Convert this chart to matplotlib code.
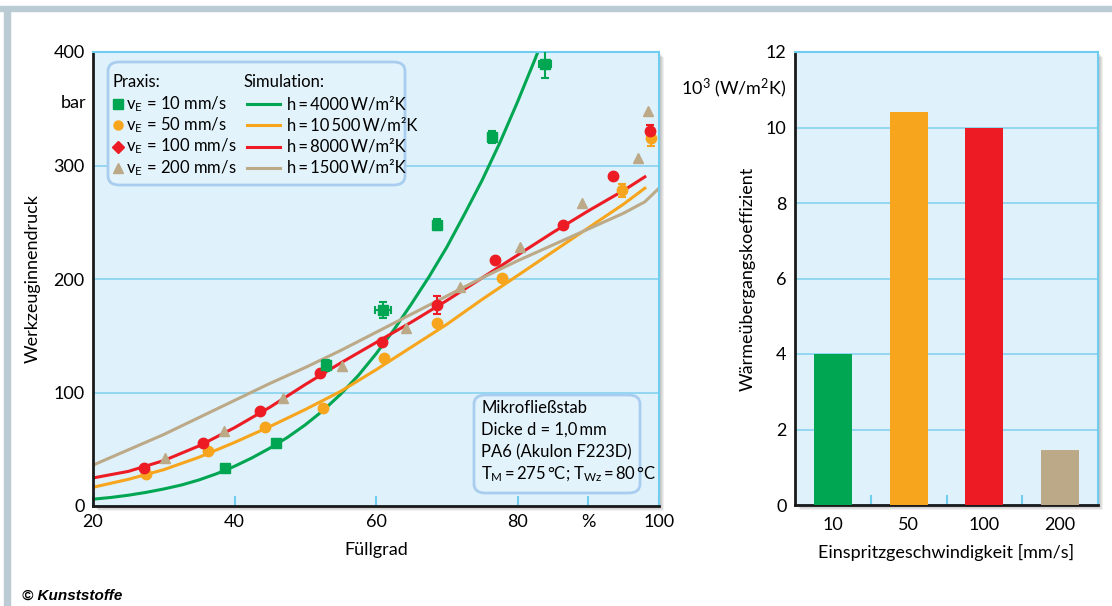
import matplotlib.pyplot as plt
from matplotlib.patches import Rectangle, FancyBboxPatch
from matplotlib.transforms import blended_transform_factory

plt.rcParams['font.family'] = ['Lato', 'DejaVu Sans']
plt.rcParams['mathtext.fontset'] = 'custom'
plt.rcParams['mathtext.rm'] = 'Lato'
plt.rcParams['mathtext.it'] = 'Lato:italic'

# Farben
GREEN = '#00a651'
ORANGE = '#f7a51c'
RED = '#ed1c24'
TAN = '#bca987'
BG = '#dff1fb'
GRID = '#8dd5f2'

# Praxis (Messwerte)
green_x = [38.7, 45.9, 52.9, 61.0, 68.6, 76.4, 83.9]
green_y = [33.5, 55.5, 124, 172.7, 248, 325, 389]
green_yerr = [0, 0, 5, 7, 5, 5, 12]
green_xerr = [0, 0, 0, 1.1, 0, 0, 0.9]

orange_x = [27.5, 36.3, 44.3, 52.5, 61.1, 68.6, 77.8, 94.8, 98.9]
orange_y = [28, 48.5, 69.6, 86, 130, 161, 201, 278, 324]
orange_yerr = [0, 0, 0, 0, 0, 0, 0, 6, 7]

red_x = [27.2, 35.5, 43.6, 52.1, 60.8, 68.6, 76.8, 86.4, 93.5, 98.7]
red_y = [33.5, 55.5, 83.7, 117, 144.5, 177, 217, 247.5, 290.7, 330]
red_yerr = [0, 0, 0, 0, 0, 8, 0, 0, 0, 6]

tan_x = [30.2, 38.5, 46.9, 55.2, 64.2, 71.9, 80.4, 89.1, 97.0, 98.4]
tan_y = [42.5, 66, 95, 123, 157, 193, 228, 267, 306.6, 348]

# Simulation
sim_green_x = [20, 22.5, 25, 27.5, 30, 32.5, 35, 37.5, 40, 42.5, 45, 47.5, 50, 52.5, 55,
               57.5, 60, 62.5, 65, 67.5, 70, 72.5, 75, 77.5, 80, 82.5, 83]
sim_green_y = [6, 7.5, 9.5, 12, 15, 18.5, 23, 28.5, 35, 42.5, 51, 60.5, 71.5, 84, 98.5,
               115, 134, 155, 178, 202, 228, 257, 287, 320, 356, 394, 402]
sim_x = [20, 25, 30, 35, 40, 45, 50, 55, 60, 65, 70, 75, 80, 85, 90, 95, 98]
sim_orange_y = [16.5, 23.5, 32, 43, 56, 70, 85, 101, 120, 140, 160, 182, 203, 224, 245, 266, 280]
sim_red_y = [24.7, 30.5, 40, 53, 69, 87, 107, 126, 144, 162, 181, 201, 221, 241, 260, 278, 290]
sim_tan_x = [20, 25, 30, 35, 40, 45, 50, 55, 60, 65, 70, 75, 80, 85, 90, 95, 98, 100]
sim_tan_y = [36, 49.5, 63, 78, 93, 108, 122, 137, 153, 169, 185, 201, 216, 230, 244, 258, 268, 280]

# Balken
bar_labels = ['10', '50', '100', '200']
bar_values = [4.0, 10.4, 10.0, 1.45]
bar_colors = [GREEN, ORANGE, RED, TAN]

W, H = 1112, 606
fig = plt.figure(figsize=(W / 100, H / 100), dpi=100)

# Rahmen oben/links
fig.patches.append(Rectangle((0, 1 - 11 / H), 1, 5 / H, transform=fig.transFigure,
                             color='#bacbd4', zorder=-2))
fig.patches.append(Rectangle((4 / W, 0), 6 / W, 1 - 11 / H, transform=fig.transFigure,
                             color='#bacbd4', zorder=-2))

ax1 = fig.add_axes([93 / W, 100 / H, 566 / W, 454 / H])
ax2 = fig.add_axes([795 / W, 101 / H, 303 / W, 453 / H])


def shadow(ax):
    b = ax.get_position()
    for i in range(1, 6):
        fig.patches.append(Rectangle((b.x0 + i / W, b.y0 - i / H), b.width, b.height,
                                     transform=fig.transFigure, color='#000000',
                                     alpha=0.06, zorder=-1, lw=0))


def style(ax):
    ax.set_facecolor(BG)
    ax.set_axisbelow(True)
    for s in ['left', 'bottom']:
        ax.spines[s].set_color('#1a1a1a')
        ax.spines[s].set_linewidth(2)
    for s in ['top', 'right']:
        ax.spines[s].set_color('#6fcdf0')
        ax.spines[s].set_linewidth(1.5)
    ax.yaxis.grid(True, color=GRID, lw=1.3)
    ax.tick_params(axis='y', length=0, pad=6, labelsize=13)
    ax.tick_params(axis='x', labelsize=13)


shadow(ax1)
shadow(ax2)
style(ax1)
style(ax2)

# --- linkes Diagramm ---
ax1.plot(sim_green_x, sim_green_y, color=GREEN, lw=2.2)
ax1.plot(sim_x, sim_orange_y, color=ORANGE, lw=2.2)
ax1.plot(sim_x, sim_red_y, color=RED, lw=2.2)
ax1.plot(sim_tan_x, sim_tan_y, color=TAN, lw=2.2)

ax1.errorbar(tan_x, tan_y, fmt='^', color=TAN, ms=7, zorder=3)
ax1.errorbar(orange_x, orange_y, yerr=orange_yerr, fmt='o', color=ORANGE, ms=7.5,
             capsize=3, elinewidth=1.5, capthick=1.5, zorder=3)
ax1.errorbar(red_x, red_y, yerr=red_yerr, fmt='o', color=RED, ms=7.5,
             capsize=3, elinewidth=1.5, capthick=1.5, zorder=3)
ax1.errorbar(green_x, green_y, yerr=green_yerr, xerr=green_xerr, fmt='s', color=GREEN,
             ms=7, capsize=3, elinewidth=1.5, capthick=1.5, zorder=3)

ax1.set_xlim(20, 100)
ax1.set_ylim(0, 400)
ax1.set_xticks([20, 40, 60, 80, 90, 100])
ax1.set_xticklabels(['20', '40', '60', '80', '%', '100'])
ax1.set_yticks([0, 100, 200, 300, 400])
ax1.tick_params(axis='x', direction='in', length=7, width=1.5, color='#6fcdf0', pad=6)
ax1.set_xlabel('Füllgrad', fontsize=13)
ax1.xaxis.set_label_coords(0.5, -0.08)
ax1.set_ylabel('Werkzeuginnendruck', fontsize=13)
ax1.yaxis.set_label_coords(-0.092, 0.5)
trans = blended_transform_factory(ax1.transAxes, ax1.transData)
ax1.text(-0.011, 355, 'bar', transform=trans, ha='right', va='center', fontsize=13)


def pa(x, y):
    # Pixel -> Achsenkoordinaten (linkes Diagramm)
    return (x - 93) / 566, (506 - y) / 454


# Legende
x0, y0 = pa(108, 185)
x1, y1 = pa(405, 62)
ax1.add_patch(FancyBboxPatch((x0, y0), x1 - x0, y1 - y0, transform=ax1.transAxes,
                             boxstyle='round,pad=0,rounding_size=0.02', fc='#e3f3fb',
                             ec='#a9cdee', lw=2, zorder=5))
leg_fs = 12
ts = '\u2009'
ax1.text(*pa(113, 82), 'Praxis:', transform=ax1.transAxes, va='center', fontsize=leg_fs, zorder=6)
ax1.text(*pa(244, 82), 'Simulation:', transform=ax1.transAxes, va='center', fontsize=leg_fs, zorder=6)
prax = [('s', GREEN, '10'), ('o', ORANGE, '50'), ('D', RED, '100'), ('^', TAN, '200')]
sims = [(GREEN, '4000'), (ORANGE, '10' + ts + '500'), (RED, '8000'), (TAN, '1500')]
for i, ((m, c, v), (lc, h)) in enumerate(zip(prax, sims)):
    ry = 104 + i * 21.3
    ax1.plot(*pa(118, ry), marker=m, color=c, ms=6.5, transform=ax1.transAxes, zorder=6)
    ax1.text(*pa(126, ry), r'v$_\mathrm{E}$ = ' + v + ' mm/s', transform=ax1.transAxes,
             va='center', fontsize=leg_fs, zorder=6)
    xa, ya = pa(247, ry)
    xb, _ = pa(280, ry)
    ax1.plot([xa, xb], [ya, ya], color=lc, lw=2.2, transform=ax1.transAxes, zorder=6)
    ax1.text(*pa(287, ry), 'h' + ts + '=' + ts + h + ts + 'W/m²K', transform=ax1.transAxes,
             va='center', fontsize=leg_fs, zorder=6)

# Infobox
x0, y0 = pa(474, 493)
x1, y1 = pa(640, 395)
ax1.add_patch(FancyBboxPatch((x0, y0), x1 - x0, y1 - y0, transform=ax1.transAxes,
                             boxstyle='round,pad=0,rounding_size=0.02', fc='#e3f3fb',
                             ec='#a9cdee', lw=2, zorder=5))
info = ['Mikrofließstab', 'Dicke d = 1,0' + ts + 'mm', 'PA6 (Akulon F223D)',
        r'T$_\mathrm{M}$' + ts + '=' + ts + '275' + ts + '°C; T' + r'$_\mathrm{Wz}$'
        + ts + '=' + ts + '80' + ts + '°C']
for i, t in enumerate(info):
    ax1.text(*pa(481, 408 + i * 22), t, transform=ax1.transAxes, va='center',
             fontsize=leg_fs, zorder=6)

# --- rechtes Diagramm ---
xpos = range(len(bar_values))
ax2.bar(xpos, bar_values, width=0.5, color=bar_colors, zorder=3)
ax2.set_xlim(-0.5, 3.5)
ax2.set_ylim(0, 12)
ax2.set_yticks(range(0, 13, 2))
ax2.set_xticks(list(xpos))
ax2.set_xticklabels(bar_labels)
ax2.set_xticks([0.5, 1.5, 2.5], minor=True)
ax2.tick_params(axis='x', which='major', length=0, pad=9)
ax2.tick_params(axis='x', which='minor', direction='in', length=7, width=1.5, color='#6fcdf0')
ax2.set_xlabel('Einspritzgeschwindigkeit [mm/s]', fontsize=13)
ax2.xaxis.set_label_coords(0.5, -0.086)
ax2.set_ylabel('Wärmeübergangskoeffizient', fontsize=13)
ax2.yaxis.set_label_coords(-0.129, 0.5)
ax2.text(-0.026, 11.05, r'10$^\mathrm{3}$ (W/m$^\mathrm{2}$K)',
         transform=blended_transform_factory(ax2.transAxes, ax2.transData),
         ha='right', va='center', fontsize=13)

fig.text(22 / W, 1 - 596 / H, '© Kunststoffe', fontsize=11, fontweight='bold',
         fontstyle='italic', va='center', family=['Liberation Sans Narrow', 'Liberation Sans', 'DejaVu Sans'])

fig.savefig('out.png', dpi=100)
